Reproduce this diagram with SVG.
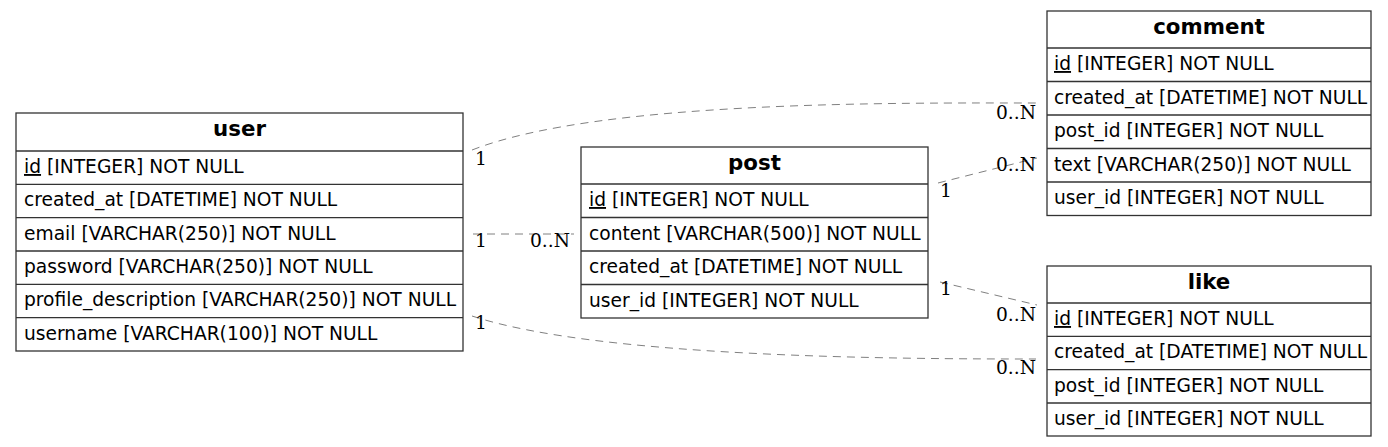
<svg xmlns="http://www.w3.org/2000/svg" width="1388" height="447" viewBox="0 0 1388 447">
<style>
.bg{fill:#ffffff}
.box{fill:#ffffff;stroke:#333333;stroke-width:1.3}
.sep{stroke:#333333;stroke-width:1.3}
.hd{font-family:"DejaVu Sans",sans-serif;font-weight:bold;font-size:21.33px;fill:#000;text-anchor:middle}
.fd{font-family:"DejaVu Sans",sans-serif;font-size:18.67px;fill:#000}
.edge{fill:none;stroke:#808080;stroke-width:1;stroke-dasharray:8,6}
.lbl{font-family:"DejaVu Serif",serif;font-size:18.67px;fill:#000}
</style>
<rect class="bg" x="0" y="0" width="1388" height="447"/>
<g id="connectors">
<path class="edge" d="M472,150 C600,100 900,103 1036,103"/>
<path class="edge" d="M473,234 L574,234"/>
<path class="edge" d="M472,316 C600,358 900,359 1036,359"/>
<path class="edge" d="M938,183 L1037,158"/>
<path class="edge" d="M940,282 L1037,305"/>
<text class="lbl" x="475" y="165">1</text>
<text class="lbl" x="996" y="119">0..N</text>
<text class="lbl" x="475" y="247">1</text>
<text class="lbl" x="530" y="247">0..N</text>
<text class="lbl" x="475" y="329">1</text>
<text class="lbl" x="996" y="374">0..N</text>
<text class="lbl" x="940" y="197">1</text>
<text class="lbl" x="996" y="171">0..N</text>
<text class="lbl" x="940" y="295">1</text>
<text class="lbl" x="996" y="321">0..N</text>
</g>
<g id="user">
<rect class="box" x="16" y="113" width="447" height="238"/>
<line class="sep" x1="16" y1="151" x2="463" y2="151"/>
<line class="sep" x1="16" y1="184.3" x2="463" y2="184.3"/>
<line class="sep" x1="16" y1="217.7" x2="463" y2="217.7"/>
<line class="sep" x1="16" y1="251" x2="463" y2="251"/>
<line class="sep" x1="16" y1="284.3" x2="463" y2="284.3"/>
<line class="sep" x1="16" y1="317.7" x2="463" y2="317.7"/>
<text class="hd" x="239.5" y="136">user</text>
<text class="fd" x="24" y="173"><tspan text-decoration="underline">id</tspan> [INTEGER] NOT NULL</text>
<text class="fd" x="24" y="206.3">created_at [DATETIME] NOT NULL</text>
<text class="fd" x="24" y="239.7">email [VARCHAR(250)] NOT NULL</text>
<text class="fd" x="24" y="273">password [VARCHAR(250)] NOT NULL</text>
<text class="fd" x="24" y="306.3">profile_description [VARCHAR(250)] NOT NULL</text>
<text class="fd" x="24" y="339.7">username [VARCHAR(100)] NOT NULL</text>
</g>
<g id="post">
<rect class="box" x="581" y="147" width="347" height="171"/>
<line class="sep" x1="581" y1="184" x2="928" y2="184"/>
<line class="sep" x1="581" y1="217.5" x2="928" y2="217.5"/>
<line class="sep" x1="581" y1="251" x2="928" y2="251"/>
<line class="sep" x1="581" y1="284.5" x2="928" y2="284.5"/>
<text class="hd" x="754.5" y="170">post</text>
<text class="fd" x="589" y="206"><tspan text-decoration="underline">id</tspan> [INTEGER] NOT NULL</text>
<text class="fd" x="589" y="239.5">content [VARCHAR(500)] NOT NULL</text>
<text class="fd" x="589" y="273">created_at [DATETIME] NOT NULL</text>
<text class="fd" x="589" y="306.5">user_id [INTEGER] NOT NULL</text>
</g>
<g id="comment">
<rect class="box" x="1047" y="11" width="324" height="204.5"/>
<line class="sep" x1="1047" y1="48" x2="1371" y2="48"/>
<line class="sep" x1="1047" y1="81.5" x2="1371" y2="81.5"/>
<line class="sep" x1="1047" y1="115" x2="1371" y2="115"/>
<line class="sep" x1="1047" y1="148.5" x2="1371" y2="148.5"/>
<line class="sep" x1="1047" y1="182" x2="1371" y2="182"/>
<text class="hd" x="1209" y="34">comment</text>
<text class="fd" x="1054" y="70"><tspan text-decoration="underline">id</tspan> [INTEGER] NOT NULL</text>
<text class="fd" x="1054" y="103.5">created_at [DATETIME] NOT NULL</text>
<text class="fd" x="1054" y="137">post_id [INTEGER] NOT NULL</text>
<text class="fd" x="1054" y="170.5">text [VARCHAR(250)] NOT NULL</text>
<text class="fd" x="1054" y="204">user_id [INTEGER] NOT NULL</text>
</g>
<g id="like">
<rect class="box" x="1047" y="266" width="324" height="170"/>
<line class="sep" x1="1047" y1="303" x2="1371" y2="303"/>
<line class="sep" x1="1047" y1="336.3" x2="1371" y2="336.3"/>
<line class="sep" x1="1047" y1="369.7" x2="1371" y2="369.7"/>
<line class="sep" x1="1047" y1="403" x2="1371" y2="403"/>
<text class="hd" x="1209" y="289">like</text>
<text class="fd" x="1054" y="325"><tspan text-decoration="underline">id</tspan> [INTEGER] NOT NULL</text>
<text class="fd" x="1054" y="358.3">created_at [DATETIME] NOT NULL</text>
<text class="fd" x="1054" y="391.7">post_id [INTEGER] NOT NULL</text>
<text class="fd" x="1054" y="425">user_id [INTEGER] NOT NULL</text>
</g>
</svg>
